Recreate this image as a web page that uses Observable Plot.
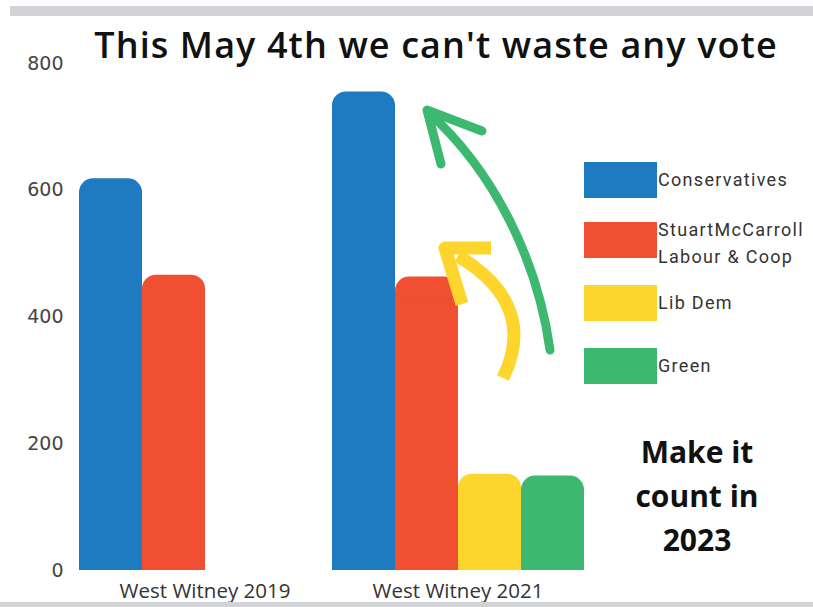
<!DOCTYPE html>
<html>
<head>
<meta charset="utf-8">
<script src="https://cdn.jsdelivr.net/npm/d3@7"></script>
<script src="https://cdn.jsdelivr.net/npm/@observablehq/plot@0.6"></script>
<style>
  html, body { margin: 0; padding: 0; background: #fff; }
  #wrap { position: relative; width: 813px; height: 607px; overflow: hidden; background: #fff; }
  #chart { position: absolute; left: 0; top: 0; }
  .band { position: absolute; background: #d1d3d6; }
  #title { position: absolute; left: 0; width: 872px; top: 20px; text-align: center;
    font-family: "Open Sans", sans-serif; font-weight: 600; font-size: 36px; letter-spacing: 1.1px; color: #111; white-space: nowrap; }
  .leg { position: absolute; font-family: Roboto, sans-serif; font-size: 18px; letter-spacing: 1.3px; color: #333; white-space: nowrap; }
  .sw { position: absolute; width: 73px; height: 36px; }
  #cta { position: absolute; left: 597px; width: 200px; top: 430px; text-align: center;
    font-family: "Open Sans", sans-serif; font-weight: 700; font-size: 30px; line-height: 44px; color: #111; }
  #deco { position: absolute; left: 0; top: 0; pointer-events: none; }
</style>
</head>
<body>
<div id="wrap">
  <div id="chart"></div>
  <div class="band" style="left:10px;top:6px;width:803px;height:10px"></div>
  <div class="band" style="left:0;top:602px;width:813px;height:5px"></div>
  <div id="title">This May 4th we can't waste any vote</div>
  <div id="legend"></div>
  <div id="cta">Make it<br>count in<br>2023</div>
  <svg id="deco" width="813" height="607">
    <path d="M550,350 C538,262 495,172 428,112" fill="none" stroke="#3cb870" stroke-width="9" stroke-linecap="round"/>
    <path d="M482,131 L427,110 L441,164" fill="none" stroke="#3cb870" stroke-width="9" stroke-linecap="round" stroke-linejoin="round"/>
    <path d="M503,378 C524,335 518,292 458,256" fill="none" stroke="#fdd52d" stroke-width="13" stroke-linecap="butt"/>
    <path d="M491,248 L445,248 L462,304" fill="none" stroke="#fdd52d" stroke-width="13" stroke-linecap="butt" stroke-linejoin="round"/>
  </svg>
</div>
<script>
const groups = ["West Witney 2019", "West Witney 2021"];
const parties = ["Conservatives", "StuartMcCarroll Labour & Coop", "Lib Dem", "Green"];
const legendLabels = ["Conservatives", "StuartMcCarroll\nLabour & Coop", "Lib Dem", "Green"];
const colors = ["#1e7bbf", "#f04f32", "#fdd52d", "#3cb870"];
const values2019 = [618, 466];
const values2021 = [755, 463, 152, 149];
const yTicks = [0, 200, 400, 600, 800];

const data = [
  ...values2019.map((v, i) => ({group: groups[0], party: parties[i], value: v})),
  ...values2021.map((v, i) => ({group: groups[1], party: parties[i], value: v}))
];

const chart = Plot.plot({
  width: 813,
  height: 607,
  marginLeft: 77,
  marginRight: 229,
  marginTop: 63,
  marginBottom: 37,
  style: {fontFamily: "Open Sans, sans-serif", color: "#333", background: "transparent"},
  fx: {domain: groups, padding: 0, label: null},
  x: {domain: parties, padding: 0, axis: null},
  y: {domain: [0, 800], ticks: yTicks, label: null},
  color: {domain: parties, range: colors},
  marks: [
    Plot.axisY({ticks: yTicks, tickSize: 0, tickPadding: 15, label: null, fontSize: 19, fontFamily: "DejaVu Sans", fill: "#444"}),
    Plot.axisFx({anchor: "bottom", tickSize: 0, tickPadding: 13, label: null, fontSize: 20.5, fill: "#333"}),
    Plot.barY(data, {fx: "group", x: "party", y: "value", fill: "party", rx: 14}),
    Plot.barY(data, {fx: "group", x: "party", y: "value", fill: "party", insetTop: 20})
  ]
});
document.getElementById("chart").appendChild(chart);

// legend
const leg = document.getElementById("legend");
const swTops = [162, 222, 285, 348];
legendLabels.forEach((lab, i) => {
  const sw = document.createElement("div");
  sw.className = "sw";
  sw.style.left = "584px";
  sw.style.top = swTops[i] + "px";
  sw.style.background = colors[i];
  leg.appendChild(sw);
  const lines = lab.split("\n");
  lines.forEach((t, j) => {
    const d = document.createElement("div");
    d.className = "leg";
    d.style.left = "658px";
    const c = lines.length === 1 ? swTops[i] + 19 : swTops[i] + 9 + j * 27;
    d.style.top = (c - 12) + "px";
    d.textContent = t;
    leg.appendChild(d);
  });
});
</script>
</body>
</html>
